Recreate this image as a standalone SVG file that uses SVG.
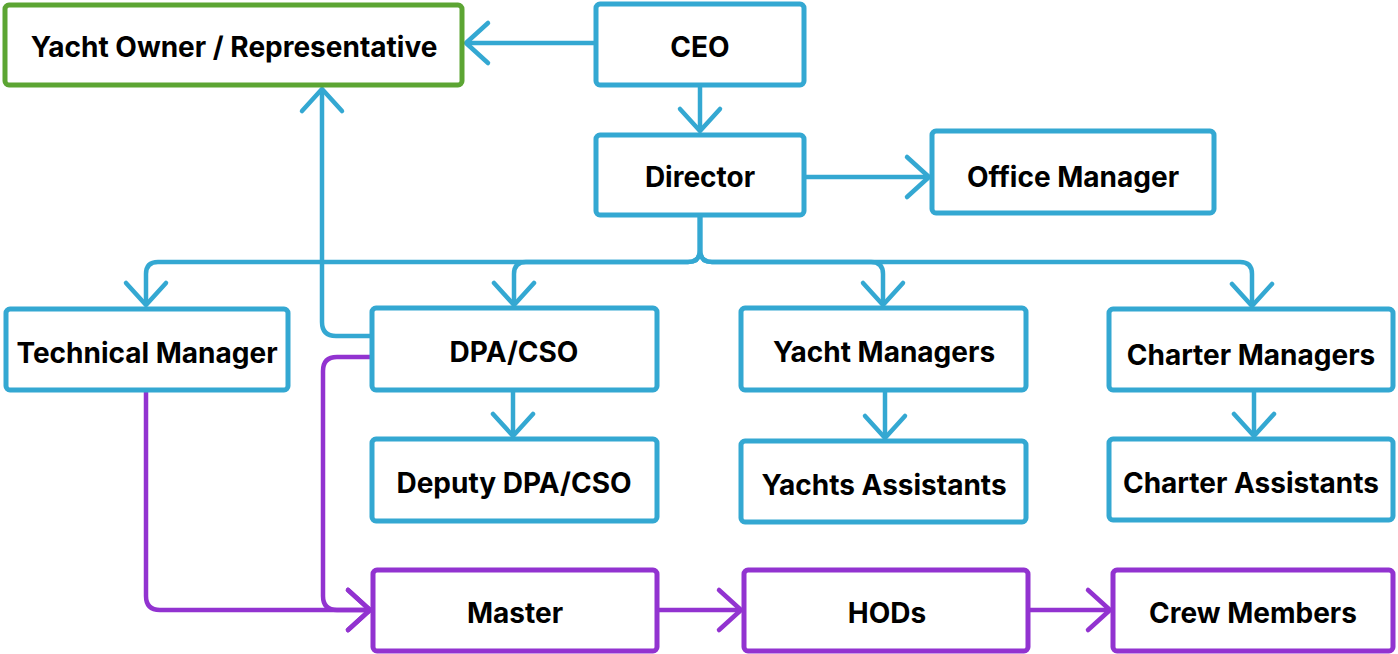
<svg xmlns="http://www.w3.org/2000/svg" width="1398" height="654" viewBox="0 0 1398 654">
<style>
.box{fill:#fff;stroke-width:5;}
.b{stroke:#34A8D2;}
.p{stroke:#9233D0;}
.g{stroke:#5CA533;}
.t{font-family:Inter,"Liberation Sans",sans-serif;font-weight:700;font-size:28px;fill:#000;text-anchor:middle;}
.c{fill:none;stroke-width:4.5;stroke-linejoin:round;}
.cb{stroke:#34A8D2;marker-end:url(#ab);}
.cp{stroke:#9233D0;marker-end:url(#ap);}
</style>
<defs>
<marker id="ab" markerUnits="userSpaceOnUse" markerWidth="60" markerHeight="60" viewBox="-30 -30 60 60" refX="0" refY="0" orient="auto">
<path d="M -22 -20 L 0 0 L -22 20" fill="none" stroke="#34A8D2" stroke-width="4.5" stroke-linecap="round" stroke-linejoin="round"/>
</marker>
<marker id="ap" markerUnits="userSpaceOnUse" markerWidth="60" markerHeight="60" viewBox="-30 -30 60 60" refX="0" refY="0" orient="auto">
<path d="M -22 -20 L 0 0 L -22 20" fill="none" stroke="#9233D0" stroke-width="4.5" stroke-linecap="round" stroke-linejoin="round"/>
</marker>
</defs>
<rect width="1398" height="654" fill="#fff"/>
<g id="connectors">
<path class="c cb" d="M 595 43 H 466"/>
<path class="c cb" d="M 700 86 V 131"/>
<path class="c cb" d="M 805 177 H 929"/>
<path class="c cb" d="M 700 215 V 250 Q 700 262 688 262 H 158 Q 146 262 146 274 V 305"/>
<path class="c cb" d="M 700 215 V 250 Q 700 262 688 262 H 526 Q 514 262 514 274 V 305"/>
<path class="c cb" d="M 700 215 V 250 Q 700 262 712 262 H 871 Q 883 262 883 274 V 305"/>
<path class="c cb" d="M 700 215 V 250 Q 700 262 712 262 H 1240 Q 1252 262 1252 274 V 306"/>
<path class="c cb" d="M 513 392 V 436"/>
<path class="c cb" d="M 885 392 V 438"/>
<path class="c cb" d="M 1254 392 V 436"/>
<path class="c cb" d="M 370 336 H 336 Q 322 336 322 322 V 89"/>
<path class="c cp" d="M 146 392 V 596 Q 146 610 160 610 H 370"/>
<path class="c cp" d="M 370 357 H 337 Q 323 357 323 371 V 596 Q 323 610 337 610 H 370"/>
<path class="c cp" d="M 658 610 H 741"/>
<path class="c cp" d="M 1030 610 H 1110"/>
</g>
<g id="yacht-owner"><rect class="box g" x="5" y="5" width="457" height="80" rx="4"/><text class="t" x="234" y="57">Yacht Owner / Representative</text></g>
<g id="ceo"><rect class="box b" x="596" y="4" width="208" height="81" rx="4"/><text class="t" x="700" y="57">CEO</text></g>
<g id="director"><rect class="box b" x="596" y="135" width="208" height="80" rx="4"/><text class="t" x="700" y="187">Director</text></g>
<g id="office-manager"><rect class="box b" x="932" y="131" width="282" height="82" rx="4"/><text class="t" x="1073" y="187">Office Manager</text></g>
<g id="technical-manager"><rect class="box b" x="6" y="309" width="282" height="81" rx="4"/><text class="t" x="147" y="363">Technical Manager</text></g>
<g id="dpa-cso"><rect class="box b" x="372" y="308" width="285" height="82" rx="4"/><text class="t" x="514" y="362">DPA/CSO</text></g>
<g id="yacht-managers"><rect class="box b" x="741" y="308" width="285" height="82" rx="4"/><text class="t" x="884" y="362">Yacht Managers</text></g>
<g id="charter-managers"><rect class="box b" x="1109" y="309" width="284" height="81" rx="4"/><text class="t" x="1251" y="365">Charter Managers</text></g>
<g id="deputy-dpa-cso"><rect class="box b" x="372" y="439" width="285" height="82" rx="4"/><text class="t" x="514" y="493">Deputy DPA/CSO</text></g>
<g id="yachts-assistants"><rect class="box b" x="741" y="441" width="285" height="81" rx="4"/><text class="t" x="884" y="495">Yachts Assistants</text></g>
<g id="charter-assistants"><rect class="box b" x="1109" y="439" width="284" height="81" rx="4"/><text class="t" x="1251" y="493">Charter Assistants</text></g>
<g id="master"><rect class="box p" x="373" y="570" width="284" height="81" rx="4"/><text class="t" x="515" y="623">Master</text></g>
<g id="hods"><rect class="box p" x="744" y="570" width="284" height="81" rx="4"/><text class="t" x="887" y="623">HODs</text></g>
<g id="crew-members"><rect class="box p" x="1113" y="570" width="280" height="81" rx="4"/><text class="t" x="1253" y="623">Crew Members</text></g>
</svg>
